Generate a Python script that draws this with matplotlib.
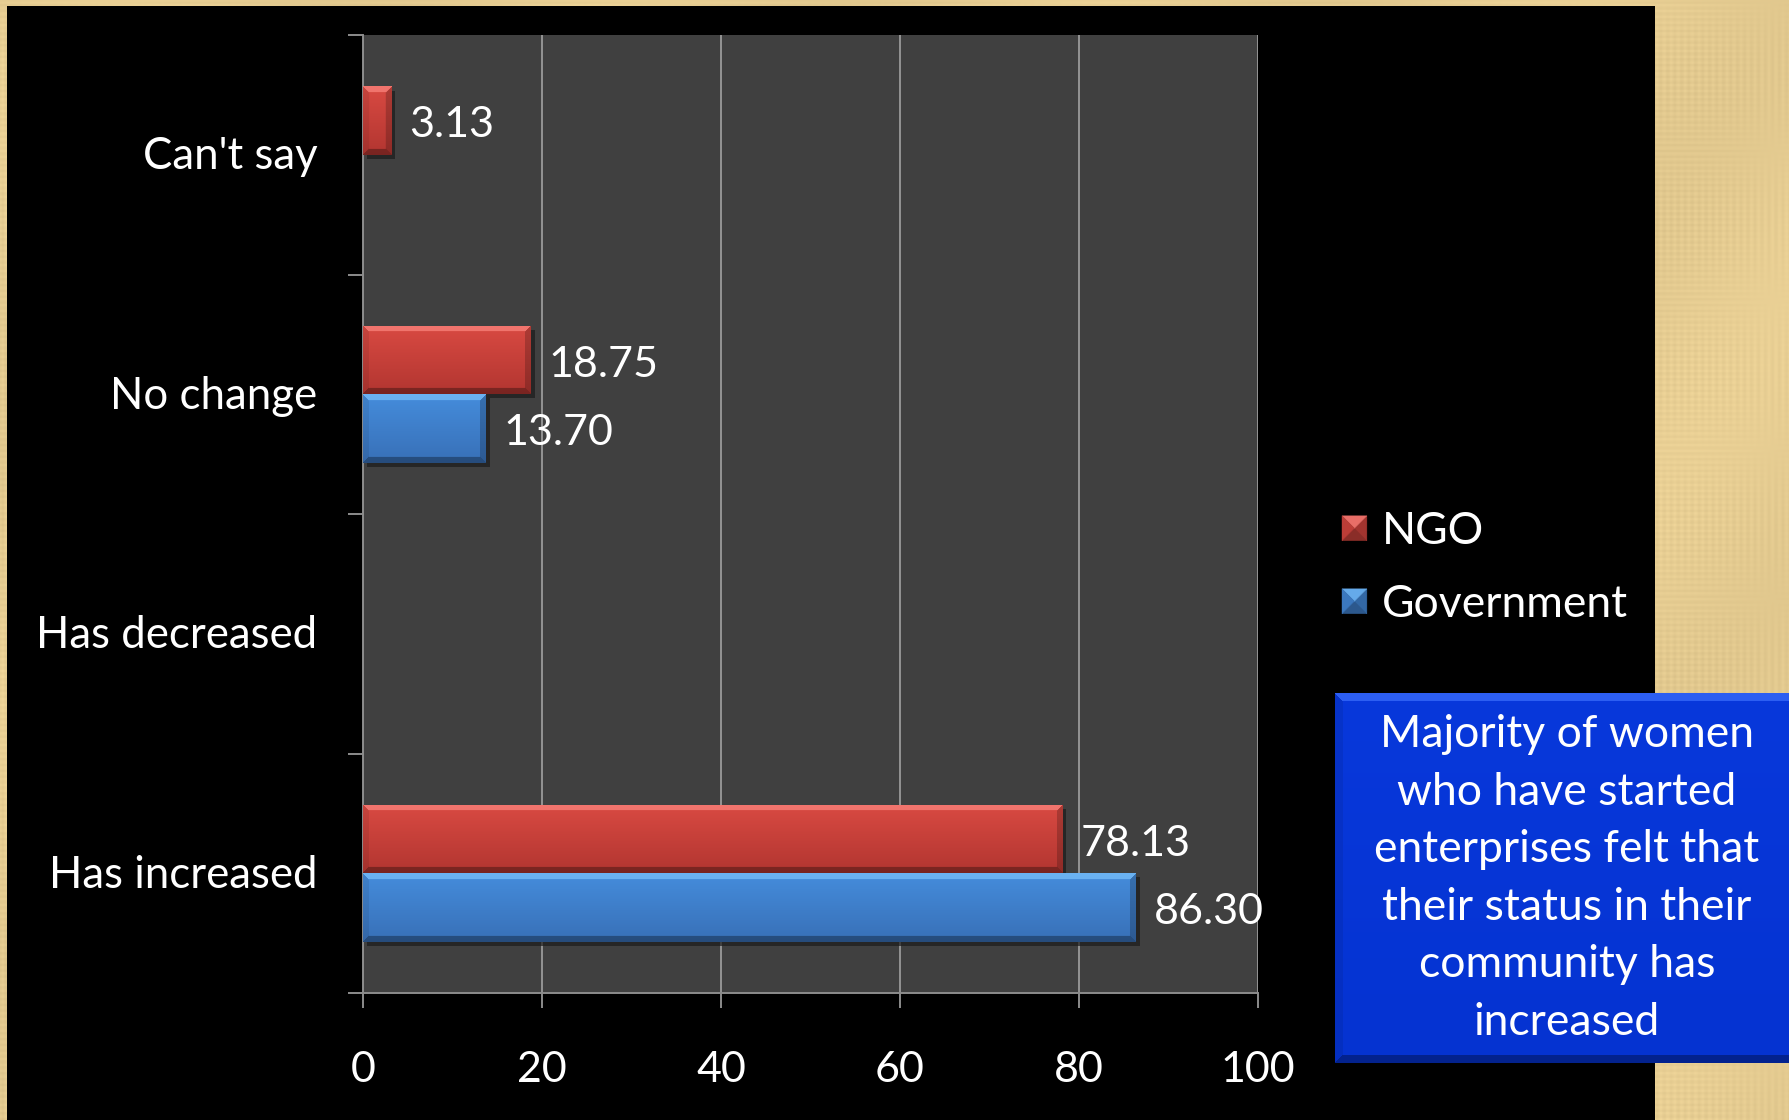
import numpy as np
import matplotlib
matplotlib.use("Agg")
import matplotlib.pyplot as plt
from matplotlib.patches import Rectangle, Polygon
from matplotlib.legend_handler import HandlerBase
import matplotlib.patheffects as pe
import matplotlib.transforms as mtransforms

# ---- data ----
categories = ["Has increased", "Has decreased", "No change", "Can't say"]
ngo_values = [78.13, np.nan, 18.75, 3.13]
gov_values = [86.30, np.nan, 13.70, np.nan]
series_names = ["NGO", "Government"]
x_ticks = [0, 20, 40, 60, 80, 100]
note_lines = ["Majority of women", "who have started", "enterprises felt that",
              "their status in their", "community has", "increased"]

FONT = "Lato"
W_PX, H_PX = 1790, 1120
DPI = 100

RED_TOP, RED_BOT, RED_HI = np.array([0.85, 0.29, 0.26]), np.array([0.70, 0.21, 0.19]), np.array([1.0, 0.55, 0.52])
BLUE_TOP, BLUE_BOT, BLUE_HI = np.array([0.27, 0.55, 0.86]), np.array([0.22, 0.44, 0.72]), np.array([0.50, 0.78, 1.0])


def bevel_image(w, h, top, bot, hi, b):
    """RGB image of a bevelled slab: vertical body gradient plus four edge faces."""
    w = max(int(round(w)), 2)
    h = max(int(round(h)), 2)
    t = np.linspace(0, 1, h)[:, None, None]
    body = top * (1 - t) + bot * t
    body = np.broadcast_to(body, (h, w, 3)).copy()
    i = np.arange(h)[:, None] * np.ones((1, w))
    j = np.ones((h, 1)) * np.arange(w)[None, :]
    d = np.stack([i, h - 1 - i, j, w - 1 - j])
    face = d.argmin(0)
    dmin = d.min(0)
    img = body.copy()
    edge = dmin < b
    m = edge & (face == 0)
    img[m] = body[m] * 0.35 + hi * 0.65
    m = edge & (face == 1)
    img[m] = body[m] * 0.68
    m = edge & (face == 2)
    img[m] = body[m] * 0.92
    m = edge & (face == 3)
    img[m] = body[m] * 0.80
    return np.clip(img, 0, 1)


fig = plt.figure(figsize=(W_PX / DPI, H_PX / DPI), dpi=DPI)
fig.patch.set_facecolor("#e5cb8e")

# parchment texture behind the slide
bg = fig.add_axes([0, 0, 1, 1], zorder=-10)
yy, xx = np.mgrid[0:H_PX:2, 0:W_PX:2]
tex = (0.5 * np.sin(xx * 0.9) * np.sin(yy * 0.021) + 0.5 * np.sin(yy * 1.1) * np.sin(xx * 0.017 + 1.3)
       + 0.4 * np.sin(xx * 0.013 + yy * 0.011))
base = np.array([0.90, 0.80, 0.57])
bg_img = np.clip(base[None, None, :] + 0.04 * tex[..., None] * np.array([1.0, 0.95, 0.8]), 0, 1)
bg.imshow(bg_img, extent=[0, 1, 0, 1], aspect="auto", interpolation="bilinear")
bg.set_axis_off()

# black slide panel
fig.patches.append(Rectangle((7 / W_PX, 0), (1655 - 7) / W_PX, (H_PX - 6) / H_PX,
                             transform=fig.transFigure, facecolor="black", edgecolor="none", zorder=-5))

# ---- chart ----
ax = fig.add_axes([363 / W_PX, (H_PX - 993) / H_PX, 895 / W_PX, 958 / H_PX])
ax.set_facecolor("#404040")
ax.set_xlim(0, 100)
ax.set_ylim(-0.5, len(categories) - 0.5)

ypos = np.arange(len(categories))
bar_h = 0.285

px_per_x = 895 / 100.0
px_per_y = 958 / len(categories)

for vals, offset, cols in [(ngo_values, bar_h / 2, (RED_TOP, RED_BOT, RED_HI)),
                           (gov_values, -bar_h / 2, (BLUE_TOP, BLUE_BOT, BLUE_HI))]:
    vals = np.asarray(vals, dtype=float)
    ok = ~np.isnan(vals)
    bars = ax.barh(ypos[ok] + offset, vals[ok], height=bar_h, color=cols[1], zorder=3,
                   path_effects=[pe.SimplePatchShadow(offset=(3, -3), shadow_rgbFace="#1c1c1c", alpha=0.7),
                                 pe.Normal()])
    for patch, v in zip(bars.patches, vals[ok]):
        y0 = patch.get_y()
        h = patch.get_height()
        img = bevel_image(v * px_per_x, h * px_per_y, cols[0], cols[1], cols[2], 6)
        im = ax.imshow(img, extent=[0, v, y0, y0 + h], origin="upper", aspect="auto",
                       interpolation="bilinear", zorder=4)
        im.set_clip_path(patch)
        ax.annotate(f"{v:.2f}", xy=(v, y0 + h / 2), xytext=(13.0, -3.5), textcoords="offset points",
                    ha="left", va="center", color="white", fontsize=31, family=FONT, zorder=6)

ax.set_aspect("auto")
ax.set_xlim(0, 100)
ax.set_ylim(-0.5, len(categories) - 0.5)

# axes styling
grid_col = "#9a9a9a"
ax.set_xticks(x_ticks)
ax.set_xticklabels([str(t) for t in x_ticks])
ax.grid(axis="x", color=grid_col, linewidth=1.3, zorder=1)
ax.set_axisbelow(True)
ax.set_yticks(np.arange(len(categories) + 1) - 0.5)
ax.set_yticklabels([])
ax.set_yticks(ypos, minor=True)
ax.set_yticklabels(categories, minor=True)
ax.tick_params(axis="y", which="major", length=11, width=1.4, color="#8c8c8c")
ax.tick_params(axis="y", which="minor", length=0, pad=33, labelsize=31.5, labelcolor="white")
ax.tick_params(axis="x", which="major", length=11, width=1.4, color="#8c8c8c",
               pad=31, labelsize=31, labelcolor="white")
for lab in ax.get_xticklabels():
    lab.set_family(FONT)
lift = mtransforms.ScaledTranslation(0, 2 / DPI, fig.dpi_scale_trans)
for lab in ax.get_yticklabels(minor=True):
    lab.set_family(FONT)
    lab.set_transform(lab.get_transform() + lift)
for side in ["top", "right"]:
    ax.spines[side].set_visible(False)
for side in ["left", "bottom"]:
    ax.spines[side].set_color("#8c8c8c")
    ax.spines[side].set_linewidth(1.4)


# ---- legend with pyramid-bevel swatches ----
class BevelSwatch(HandlerBase):
    def __init__(self, top, bot, hi):
        super().__init__()
        self.top, self.bot, self.hi = top, bot, hi

    def create_artists(self, legend, orig_handle, xdescent, ydescent, width, height, fontsize, trans):
        s = min(width, height)
        x0, y0 = -xdescent, -ydescent + (height - s) / 2
        c = (x0 + s / 2, y0 + s / 2)
        mid = (self.top + self.bot) / 2
        corners = [(x0, y0), (x0 + s, y0), (x0 + s, y0 + s), (x0, y0 + s)]
        faces = [(corners[0], corners[1], mid * 0.7),      # bottom
                 (corners[1], corners[2], mid * 0.82),     # right
                 (corners[2], corners[3], np.clip(mid * 0.4 + self.hi * 0.6, 0, 1)),  # top
                 (corners[3], corners[0], mid * 0.95)]     # left
        arts = []
        for a, b, col in faces:
            p = Polygon([a, b, c], closed=True, facecolor=col, edgecolor=col, linewidth=0.3, transform=trans)
            arts.append(p)
        return arts


h_ngo = Rectangle((0, 0), 1, 1)
h_gov = Rectangle((0, 0), 1, 1)
leg = fig.legend([h_ngo, h_gov], series_names, loc="upper left",
                 bbox_to_anchor=(1342 / W_PX, 1 - 511 / H_PX), frameon=False,
                 prop={"family": FONT, "size": 32}, labelcolor="white",
                 handlelength=0.56, handleheight=0.56, handletextpad=0.33, labelspacing=0.72,
                 borderpad=0, borderaxespad=0,
                 handler_map={h_ngo: BevelSwatch(RED_TOP, RED_BOT, RED_HI),
                              h_gov: BevelSwatch(BLUE_TOP, BLUE_BOT, BLUE_HI)})

# ---- callout box ----
box_l, box_b, box_r, box_t = 1335, H_PX - 1063, 1800, H_PX - 693
bax = fig.add_axes([box_l / W_PX, box_b / H_PX, (box_r - box_l) / W_PX, (box_t - box_b) / H_PX], zorder=5)
box_img = bevel_image(box_r - box_l, box_t - box_b, np.array([0.03, 0.22, 0.86]),
                      np.array([0.02, 0.20, 0.82]), np.array([0.25, 0.45, 1.0]), 8)
bax.imshow(box_img, aspect="auto", interpolation="bilinear")
bax.set_axis_off()

first_baseline = 747
line_step = 57.6
for k, line in enumerate(note_lines):
    fig.text(1567 / W_PX, 1 - (first_baseline + k * line_step) / H_PX, line, ha="center", va="baseline",
             color="white", fontsize=32, family=FONT, zorder=10)

fig.savefig("out.png", dpi=DPI, facecolor=fig.get_facecolor())
